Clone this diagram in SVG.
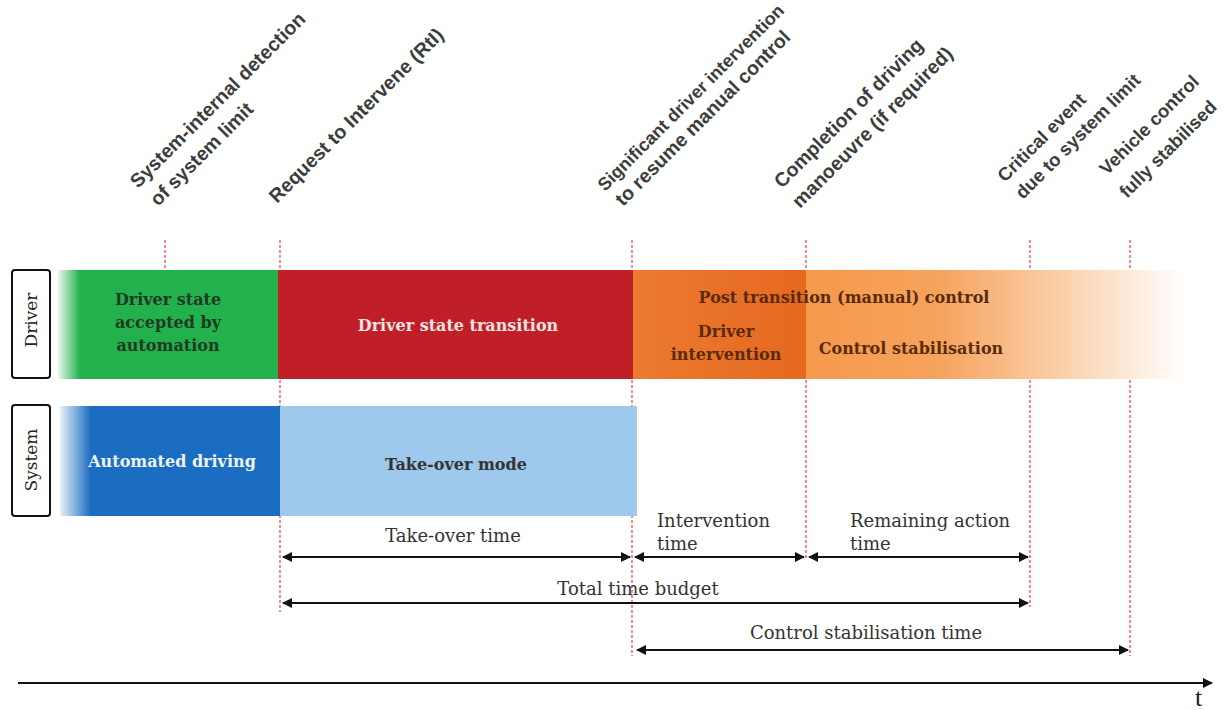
<svg xmlns="http://www.w3.org/2000/svg" width="1225" height="710" viewBox="0 0 1225 710">
<style>
.rot{font-family:"Liberation Sans",Arial,sans-serif;font-weight:bold;font-size:19.5px;fill:#3c3c3c}
.rotS{font-size:18.5px}
.bar{font-family:"DejaVu Serif","Liberation Serif",serif;font-weight:bold;font-size:16px;text-anchor:middle}
.lbl{font-family:"DejaVu Serif","Liberation Serif",serif;font-size:18px;fill:#333}
.lane{font-family:"DejaVu Serif","Liberation Serif",serif;font-size:17px;fill:#222;text-anchor:middle}
.dash{stroke:#e0404c;stroke-width:1.2;stroke-dasharray:3,2;fill:none}
.arr{stroke:#111;stroke-width:2;fill:none;marker-start:url(#ah);marker-end:url(#ah)}
.box{fill:#fff;stroke:#111;stroke-width:2}
</style>
<defs>
<marker id="ah" viewBox="0 0 10 10" refX="9" refY="5" markerWidth="5" markerHeight="5" orient="auto-start-reverse" markerUnits="strokeWidth"><path d="M0,0 L10,5 L0,10 z" fill="#111"/></marker>
<linearGradient id="gGreen" x1="58" x2="278" y1="0" y2="0" gradientUnits="userSpaceOnUse">
<stop offset="0" stop-color="#22b14c" stop-opacity="0.1"/><stop offset="0.1" stop-color="#22b14c" stop-opacity="1"/><stop offset="1" stop-color="#22b14c"/></linearGradient>
<linearGradient id="gBlue" x1="60" x2="280" y1="0" y2="0" gradientUnits="userSpaceOnUse">
<stop offset="0" stop-color="#1b6dc1" stop-opacity="0.1"/><stop offset="0.14" stop-color="#1b6dc1" stop-opacity="1"/><stop offset="1" stop-color="#1b6dc1"/></linearGradient>
<linearGradient id="gOrD" x1="633" x2="806" y1="0" y2="0" gradientUnits="userSpaceOnUse">
<stop offset="0" stop-color="#ec7a30"/><stop offset="1" stop-color="#e5691f"/></linearGradient>
<linearGradient id="gOrL" x1="806" x2="1185" y1="0" y2="0" gradientUnits="userSpaceOnUse">
<stop offset="0" stop-color="#f5994c"/><stop offset="0.35" stop-color="#f6a35c"/><stop offset="0.7" stop-color="#fbd3b0"/><stop offset="1" stop-color="#ffffff"/></linearGradient>
<marker id="ax" viewBox="0 0 10 10" refX="9" refY="5" markerWidth="5" markerHeight="5" orient="auto" markerUnits="strokeWidth"><path d="M0,0 L10,5 L0,10 z" fill="#111"/></marker>
</defs>

<g id="guides">
<line class="dash" x1="165" y1="240" x2="165" y2="270"/>
<line class="dash" x1="280" y1="240" x2="280" y2="612"/>
<line class="dash" x1="632" y1="240" x2="632" y2="656"/>
<line class="dash" x1="806" y1="240" x2="806" y2="560"/>
<line class="dash" x1="1030" y1="240" x2="1030" y2="607"/>
<line class="dash" x1="1130" y1="240" x2="1130" y2="656"/>
</g>

<g id="lane-driver">
<rect class="box" x="12" y="270" width="38" height="108" rx="3"/>
<text class="lane" transform="translate(37,320) rotate(-90)">Driver</text>
</g>
<g id="lane-system">
<rect class="box" x="12" y="405" width="38" height="111" rx="3"/>
<text class="lane" transform="translate(37,460) rotate(-90)">System</text>
</g>

<g id="driver-accepted">
<rect x="58" y="270" width="220" height="109" fill="url(#gGreen)"/>
<text class="bar" fill="#1f3a22"><tspan x="168" y="305">Driver state</tspan><tspan x="168" y="328">accepted by</tspan><tspan x="168" y="351">automation</tspan></text>
</g>
<g id="driver-transition">
<rect x="278" y="270" width="355" height="109" fill="#c11f28"/>
<text class="bar" fill="#f4e4e4" x="458" y="331">Driver state transition</text>
</g>
<g id="driver-intervention">
<rect x="633" y="270" width="173" height="109" fill="url(#gOrD)"/>
<text class="bar" fill="#5a2a0c"><tspan x="726" y="337">Driver</tspan><tspan x="726" y="360">intervention</tspan></text>
</g>
<g id="control-stabilisation">
<rect x="806" y="270" width="379" height="109" fill="url(#gOrL)"/>
<text class="bar" fill="#5a2a0c" x="911" y="354">Control stabilisation</text>
</g>
<text class="bar" fill="#5a2a0c" x="844" y="303">Post transition (manual) control</text>

<g id="automated-driving">
<rect x="60" y="406" width="220" height="110" fill="url(#gBlue)"/>
<text class="bar" fill="#eef4fb" x="172" y="467">Automated driving</text>
</g>
<g id="take-over-mode">
<rect x="280" y="406" width="357" height="110" fill="#9ec8ec"/>
<text class="bar" fill="#333" x="456" y="470">Take-over mode</text>
</g>

<g id="events">
<text class="rot" transform="translate(138,189) rotate(-45)">System-internal detection</text>
<text class="rot" transform="translate(158,207) rotate(-45)">of system limit</text>
<text class="rot" transform="translate(277,204) rotate(-45)">Request to Intervene (RtI)</text>
<text class="rot" transform="translate(605,192) rotate(-45)" style="font-size:18px">Significant driver intervention</text>
<text class="rot" transform="translate(623,207) rotate(-45)">to resume manual control</text>
<text class="rot" transform="translate(782,189) rotate(-45)">Completion of driving</text>
<text class="rot" transform="translate(800,209) rotate(-45)">manoeuvre (if required)</text>
<text class="rot rotS" transform="translate(1005,183) rotate(-45)">Critical event</text>
<text class="rot rotS" transform="translate(1023,200) rotate(-45)">due to system limit</text>
<text class="rot rotS" transform="translate(1107,176) rotate(-45)">Vehicle control</text>
<text class="rot rotS" transform="translate(1127,199) rotate(-45)">fully stabilised</text>
</g>

<g id="connectors">
<line class="arr" x1="283" y1="557" x2="630" y2="557"/>
<line class="arr" x1="635" y1="557" x2="804" y2="557"/>
<line class="arr" x1="809" y1="557" x2="1028" y2="557"/>
<line class="arr" x1="283" y1="603" x2="1028" y2="603"/>
<line class="arr" x1="637" y1="650" x2="1128" y2="650"/>
<line stroke="#111" stroke-width="2" x1="18" y1="683" x2="1212" y2="683" marker-end="url(#ax)"/>
</g>

<g id="labels">
<text class="lbl" x="453" y="542" text-anchor="middle">Take-over time</text>
<text class="lbl"><tspan x="657" y="527">Intervention</tspan><tspan x="657" y="550">time</tspan></text>
<text class="lbl"><tspan x="850" y="527">Remaining action</tspan><tspan x="850" y="550">time</tspan></text>
<text class="lbl" x="638" y="595" text-anchor="middle">Total time budget</text>
<text class="lbl" x="866" y="639" text-anchor="middle">Control stabilisation time</text>
<text x="1195" y="706" font-family="'Liberation Serif',serif" font-size="26" fill="#222">t</text>
</g>
</svg>
